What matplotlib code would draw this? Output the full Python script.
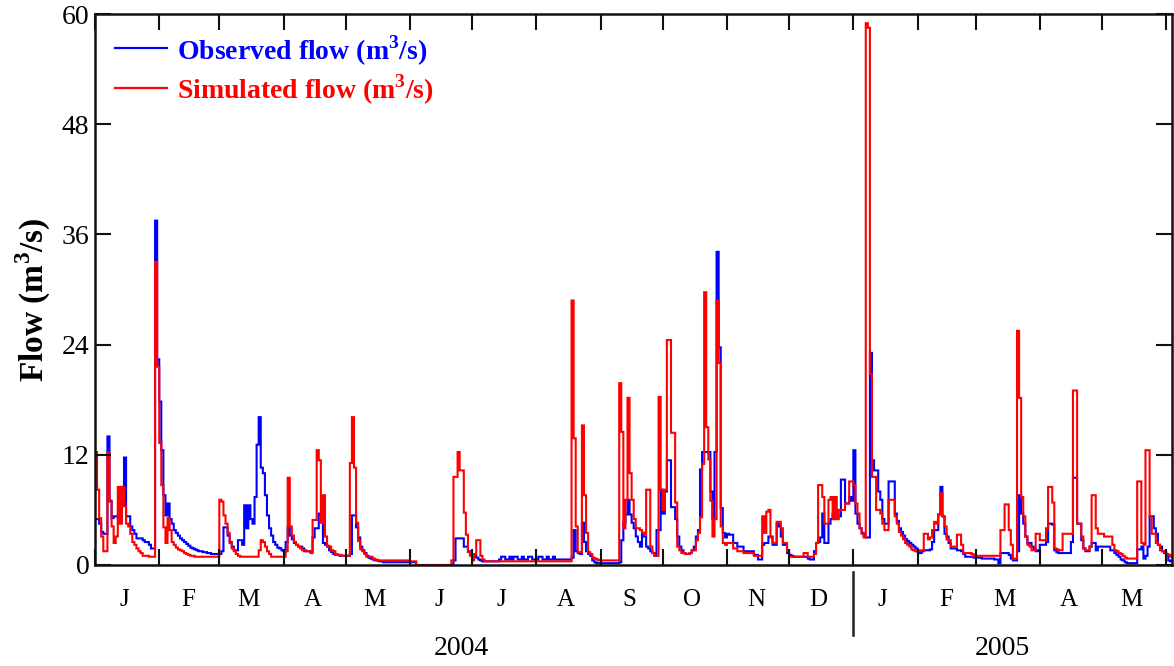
import numpy as np
import matplotlib.pyplot as plt

plt.rcParams['font.family'] = ['Liberation Serif', 'DejaVu Serif']
plt.rcParams['mathtext.fontset'] = 'custom'
plt.rcParams['mathtext.rm'] = 'Liberation Serif'
plt.rcParams['mathtext.bf'] = 'Liberation Serif:bold'

# daily flow (m3/s), 1 Jan 2004 .. 4 Jun 2005, one line per month
observed = [
    5.0, 5.0, 4.5, 3.6, 3.4, 3.4, 14.0, 7.0, 5.1, 5.3, 5.3, 5.1, 5.1, 8.5, 11.7, 5.3, 5.3, 4.2, 3.8, 3.4, 2.9, 2.9, 2.9, 2.7, 2.5, 2.5, 2.2, 1.8, 1.8, 37.5, 22.4,
    17.8, 12.5, 7.6, 5.4, 6.7, 5.0, 4.5, 3.8, 3.5, 3.2, 2.9, 2.7, 2.5, 2.3, 2.1, 1.9, 1.8, 1.7, 1.6, 1.5, 1.5, 1.4, 1.4, 1.3, 1.3, 1.2, 1.2, 1.2, 1.2,
    1.2, 1.5, 4.1, 4.1, 3.2, 2.5, 2.0, 1.6, 1.6, 2.7, 2.7, 2.2, 6.5, 4.0, 6.5, 5.0, 4.5, 7.4, 13.1, 16.1, 10.6, 10.0, 7.6, 5.4, 4.0, 3.2, 2.5, 2.2, 1.9, 1.8, 1.6,
    1.5, 2.5, 4.1, 3.2, 2.8, 2.4, 2.2, 2.0, 2.0, 1.8, 1.5, 1.5, 1.5, 1.4, 3.0, 4.0, 4.0, 5.6, 5.6, 2.4, 2.2, 2.0, 1.6, 1.4, 1.2, 1.1, 1.1, 1.0, 1.0, 1.0,
    1.0, 1.0, 1.2, 5.4, 5.4, 4.1, 3.0, 2.0, 1.6, 1.3, 1.0, 0.8, 0.7, 0.6, 0.5, 0.5, 0.4, 0.4, 0.3, 0.3, 0.3, 0.3, 0.3, 0.3, 0.3, 0.3, 0.3, 0.3, 0.3, 0.3, 0.3,
    0.3, 0.3, 0.3, 0.0, 0.0, 0.0, 0.0, 0.0, 0.0, 0.0, 0.0, 0.0, 0.0, 0.0, 0.0, 0.0, 0.0, 0.0, 0.0, 0.0, 0.0, 0.5, 2.9, 2.9, 2.9, 2.9, 2.0, 2.0, 1.5, 1.1,
    0.9, 1.0, 0.8, 0.6, 0.5, 0.4, 0.4, 0.4, 0.4, 0.4, 0.4, 0.4, 0.4, 0.6, 0.9, 0.9, 0.6, 0.6, 0.9, 0.6, 0.9, 0.9, 0.6, 0.6, 0.9, 0.6, 0.6, 0.9, 0.9, 0.6, 0.6,
    0.6, 0.9, 0.9, 0.6, 0.6, 0.9, 0.6, 0.6, 0.9, 0.6, 0.6, 0.6, 0.6, 0.6, 0.6, 0.6, 0.6, 0.8, 3.8, 1.5, 1.3, 1.2, 4.6, 2.5, 1.5, 1.2, 1.0, 0.5, 0.3, 0.2, 0.2,
    0.2, 0.2, 0.2, 0.2, 0.2, 0.2, 0.2, 0.2, 0.2, 0.3, 2.7, 4.6, 5.5, 7.1, 5.5, 4.6, 4.0, 3.1, 2.5, 2.0, 3.5, 3.1, 2.0, 1.8, 1.5, 1.3, 1.0, 3.8, 3.8, 8.2,
    5.6, 8.0, 11.4, 11.4, 6.3, 6.3, 5.0, 3.1, 2.0, 1.6, 1.3, 1.2, 1.2, 1.3, 1.6, 2.0, 3.1, 3.8, 10.4, 12.3, 12.3, 12.3, 12.3, 8.0, 5.0, 12.3, 34.1, 23.7, 6.2, 3.5, 3.0,
    3.4, 3.3, 3.3, 2.4, 2.4, 2.0, 2.0, 2.0, 1.5, 1.5, 1.5, 1.5, 1.5, 1.1, 1.1, 0.6, 0.6, 2.2, 2.4, 2.4, 3.1, 3.1, 2.2, 2.2, 4.5, 4.2, 3.1, 2.2, 2.2, 1.3,
    1.1, 1.0, 0.9, 0.9, 0.9, 0.9, 0.9, 0.9, 0.9, 0.7, 0.6, 0.6, 1.5, 2.4, 2.5, 3.0, 5.6, 2.4, 2.4, 4.5, 5.0, 5.6, 5.0, 5.3, 5.3, 9.3, 9.3, 6.7, 6.7, 7.4, 7.0,
    12.5, 5.6, 4.5, 4.0, 3.5, 3.2, 3.0, 3.0, 23.1, 11.4, 10.3, 10.3, 8.0, 7.1, 5.0, 4.5, 4.5, 9.1, 9.1, 9.1, 5.6, 4.8, 4.0, 3.6, 3.2, 2.8, 2.6, 2.4, 2.2, 2.0, 1.8,
    1.4, 1.3, 1.5, 1.6, 1.6, 1.6, 1.7, 2.5, 3.8, 3.8, 5.5, 8.5, 5.3, 3.4, 3.1, 2.4, 1.8, 1.8, 1.8, 1.6, 1.6, 1.5, 1.2, 0.9, 0.9, 0.9, 0.9, 0.8,
    0.8, 0.8, 0.8, 0.7, 0.7, 0.7, 0.7, 0.7, 0.7, 0.6, 0.6, 0.2, 1.3, 1.3, 1.3, 1.3, 1.1, 0.7, 0.5, 0.5, 1.5, 7.6, 5.6, 4.5, 3.1, 2.4, 2.4, 2.0, 1.7, 1.5, 1.6,
    2.2, 2.2, 2.2, 2.5, 4.5, 4.5, 4.4, 1.6, 1.4, 1.3, 1.3, 1.3, 1.3, 1.3, 1.3, 2.5, 9.5, 9.5, 4.5, 4.5, 2.7, 1.8, 1.5, 1.5, 2.0, 2.4, 2.4, 1.6, 2.0, 2.0,
    2.0, 2.0, 2.0, 2.0, 1.6, 1.6, 1.3, 1.1, 0.9, 0.6, 0.5, 0.3, 0.2, 0.2, 0.2, 0.2, 0.2, 1.7, 1.7, 2.0, 0.7, 1.0, 2.0, 5.3, 5.3, 4.0, 3.4, 2.2, 2.0, 1.5, 1.3,
    1.1, 0.5, 0.4, 0.4,
]

simulated = [
    12.3, 8.2, 5.1, 3.1, 1.5, 1.5, 12.3, 6.9, 4.2, 2.4, 3.1, 8.5, 4.5, 8.5, 6.4, 4.5, 4.2, 3.4, 2.5, 2.2, 1.8, 1.5, 1.3, 1.0, 1.0, 1.0, 0.9, 0.9, 0.9, 33.0, 21.6,
    13.3, 8.7, 4.1, 2.4, 5.1, 3.8, 2.5, 2.2, 1.9, 1.7, 1.6, 1.5, 1.3, 1.2, 1.1, 1.0, 1.0, 0.9, 0.9, 0.9, 0.9, 0.9, 0.9, 0.9, 0.9, 0.9, 0.9, 0.9, 0.9,
    7.1, 6.9, 5.4, 4.5, 3.5, 2.4, 1.8, 1.5, 1.2, 1.0, 0.9, 0.9, 0.9, 0.9, 0.9, 0.9, 0.9, 0.9, 0.9, 1.6, 2.7, 2.5, 2.0, 1.5, 1.2, 0.9, 0.9, 0.9, 0.9, 0.9, 0.9,
    0.9, 1.5, 9.5, 4.2, 3.2, 2.5, 2.2, 2.0, 1.8, 1.6, 1.6, 1.5, 1.5, 1.3, 4.9, 4.9, 12.5, 11.4, 4.6, 7.6, 3.1, 2.1, 2.0, 1.6, 1.5, 1.2, 1.1, 1.1, 1.0, 1.0,
    1.0, 1.0, 11.1, 16.1, 10.6, 4.6, 2.6, 1.7, 1.5, 1.2, 0.9, 0.9, 0.9, 0.7, 0.6, 0.5, 0.5, 0.5, 0.5, 0.5, 0.5, 0.5, 0.5, 0.5, 0.5, 0.5, 0.5, 0.5, 0.5, 0.5, 0.5,
    0.4, 0.4, 0.4, 0.0, 0.0, 0.0, 0.0, 0.0, 0.0, 0.0, 0.0, 0.0, 0.0, 0.0, 0.0, 0.0, 0.0, 0.0, 0.0, 0.0, 0.5, 9.6, 9.6, 12.3, 10.3, 10.3, 5.7, 3.3, 1.4, 1.0,
    0.5, 1.2, 2.7, 2.7, 1.0, 0.6, 0.4, 0.4, 0.4, 0.4, 0.4, 0.4, 0.4, 0.4, 0.4, 0.4, 0.4, 0.4, 0.4, 0.4, 0.4, 0.4, 0.4, 0.4, 0.4, 0.4, 0.4, 0.4, 0.4, 0.4, 0.4,
    0.4, 0.4, 0.4, 0.4, 0.4, 0.4, 0.4, 0.4, 0.4, 0.4, 0.4, 0.4, 0.4, 0.4, 0.4, 0.4, 0.4, 28.8, 13.8, 4.2, 1.4, 1.4, 15.2, 7.6, 3.5, 1.4, 1.2, 0.8, 0.7, 0.6, 0.5,
    0.5, 0.5, 0.5, 0.5, 0.5, 0.5, 0.5, 0.5, 0.5, 19.8, 14.5, 4.0, 7.1, 18.2, 10.0, 7.1, 5.0, 4.0, 4.0, 3.8, 3.5, 3.3, 8.2, 8.2, 2.0, 1.3, 1.0, 1.0, 18.3, 8.2,
    6.0, 8.2, 24.5, 24.5, 14.4, 14.4, 6.8, 2.0, 1.6, 1.3, 1.3, 1.2, 1.2, 1.3, 1.6, 1.6, 2.7, 3.5, 5.2, 11.0, 29.7, 15.0, 11.5, 7.0, 3.1, 5.0, 28.8, 22.0, 4.2, 2.4, 2.2,
    2.4, 2.4, 2.4, 1.8, 1.8, 1.5, 1.5, 1.5, 1.3, 1.3, 1.3, 1.3, 1.3, 1.0, 1.0, 1.0, 1.0, 5.3, 3.5, 5.8, 6.0, 3.0, 2.4, 2.4, 4.7, 4.7, 4.0, 2.4, 2.4, 1.5,
    0.9, 0.9, 0.9, 0.9, 0.9, 0.9, 0.9, 1.3, 1.3, 0.9, 0.9, 0.9, 1.2, 2.4, 8.7, 8.7, 7.4, 4.5, 4.5, 7.1, 7.4, 5.0, 7.4, 5.0, 6.0, 6.0, 6.0, 6.7, 6.7, 9.1, 9.1,
    8.7, 6.7, 5.6, 4.0, 3.4, 3.0, 59.0, 58.5, 20.8, 9.6, 9.6, 6.0, 6.0, 5.6, 4.5, 3.8, 3.8, 7.1, 7.1, 7.1, 5.3, 4.5, 3.6, 3.2, 2.8, 2.4, 2.2, 2.0, 1.7, 1.6, 1.5,
    1.5, 1.6, 1.6, 3.4, 3.4, 2.8, 3.0, 3.8, 4.7, 4.5, 5.5, 7.8, 5.3, 4.2, 2.8, 2.7, 2.0, 2.0, 2.0, 3.3, 3.3, 2.2, 1.3, 1.3, 1.3, 1.3, 1.2, 1.0,
    1.0, 1.0, 1.0, 1.0, 1.0, 1.0, 1.0, 1.0, 1.0, 1.0, 1.0, 1.0, 3.8, 3.8, 6.6, 6.6, 3.8, 2.2, 0.7, 0.7, 25.5, 18.2, 7.4, 5.3, 3.1, 2.2, 2.0, 1.6, 1.6, 3.4, 3.4,
    2.7, 2.7, 2.7, 4.0, 8.5, 8.5, 6.8, 1.8, 1.7, 1.6, 1.6, 3.4, 3.4, 3.4, 3.4, 3.4, 19.0, 19.0, 4.5, 4.5, 3.1, 1.8, 1.6, 1.6, 2.0, 7.6, 7.6, 4.0, 3.4, 3.4,
    3.4, 3.1, 3.1, 3.1, 3.1, 2.2, 1.6, 1.5, 1.3, 1.2, 1.0, 0.8, 0.7, 0.7, 0.7, 0.7, 0.7, 9.1, 9.1, 2.4, 2.2, 12.5, 12.5, 5.3, 3.4, 3.4, 2.4, 2.2, 1.6, 1.5, 1.4,
    1.2, 1.1, 0.9, 0.9,
]

month_letters = ['J', 'F', 'M', 'A', 'M', 'J', 'J', 'A', 'S', 'O', 'N', 'D',
                 'J', 'F', 'M', 'A', 'M']
years = ['2004', '2005']
y_ticks = [0, 12, 24, 36, 48, 60]

start = np.datetime64('2004-01-01')
edges = np.arange(len(observed) + 1)
months = np.arange(np.datetime64('2004-01'), np.datetime64('2005-07'))
month_start = (months.astype('datetime64[D]') - start).astype(int)
year_start = month_start[12]

blue = '#0000ff'
red = '#ff0000'
unit = r'(m$^{\mathbf{3}}$/s)'

fig = plt.figure(figsize=(11.74, 6.66), dpi=100)
ax = fig.add_axes([95 / 1174, 1 - 565 / 666, 1077 / 1174, 551 / 666])

ax.stairs(observed, edges, color=blue, lw=1.5, baseline=None)
ax.stairs(simulated, edges, color=red, lw=1.5, baseline=None)

ax.set_xlim(0, 519.8)
ax.set_ylim(0, 60)
ax.set_yticks(y_ticks)
ax.set_xticks(month_start)
ax.tick_params(which='major', direction='in', length=11.5, width=1.5,
               top=True, right=True, labelsize=20, pad=4, color='#111111')
ax.tick_params(axis='x', labelbottom=False)
for s in ax.spines.values():
    s.set_linewidth(1.8)
    s.set_color('#111111')

# month letters under each month, year labels below them
xt = ax.get_xaxis_transform()
for m, lab in zip(month_start[:len(month_letters)], month_letters):
    ax.text(m + 14, -0.064, lab, transform=xt, ha='center', va='center', fontsize=18)
ax.text(177, -0.152, years[0], transform=xt, ha='center', va='center', fontsize=20)
ax.text(438, -0.152, years[1], transform=xt, ha='center', va='center', fontsize=20)
ax.plot([year_start, year_start], [-0.013, -0.127], transform=xt, color='#222222',
        lw=1.8, clip_on=False)

# legend drawn by hand
for yy, col, lab in [(0.938, blue, 'Observed flow ' + unit),
                     (0.866, red, 'Simulated flow ' + unit)]:
    ax.plot([0.0186, 0.0669], [yy, yy], transform=ax.transAxes, color=col, lw=1.6)
    ax.text(0.0761, yy - 0.004, lab, transform=ax.transAxes, color=col, fontsize=20,
            fontweight='bold', va='center', ha='left')

fig.text(33 / 1174, 1 - 300 / 666, 'Flow ' + unit, rotation=90, fontsize=24,
         fontweight='bold', ha='center', va='center')

fig.savefig('out.png', dpi=100)
